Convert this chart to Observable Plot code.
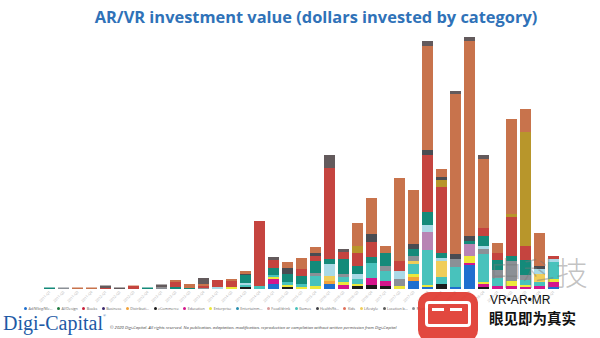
<!DOCTYPE html>
<html>
<head>
<meta charset="utf-8">
<script src="https://cdn.jsdelivr.net/npm/d3@7"></script>
<script src="https://cdn.jsdelivr.net/npm/@observablehq/plot@0.6"></script>
<style>
  html, body { margin: 0; padding: 0; background: #fff; }
  body { width: 600px; height: 338px; position: relative; overflow: hidden; font-family: "Open Sans", sans-serif; }
  #title { position: absolute; top: 5px; left: 32px; width: 568px; text-align: center; font-weight: 700; font-size: 16.4px; color: #2f72b8; white-space: nowrap; }
  #chart { position: absolute; top: 0; left: 0; }
  #legend { position: absolute; top: 306px; left: 24px; width: 412px; height: 7px; font-size: 3.7px; color: #666; white-space: nowrap; overflow: hidden; }
  #legend span.item { display: inline-flex; align-items: center; margin-right: 4.5px; }
  #legend span.dot { width: 3px; height: 3px; border-radius: 50%; margin-right: 1.4px; display: inline-block; }
  #brand { position: absolute; left: 3px; top: 312px; font-family: "Liberation Serif", serif; font-size: 20px; color: #1d5aa6; }
  #brand sup { font-size: 4px; vertical-align: 13px; }
  #copy { position: absolute; left: 110px; top: 325px; font-size: 4.2px; font-style: italic; color: #444; white-space: nowrap; }
  #wm { position: absolute; left: 0; top: 0; width: 600px; height: 338px; pointer-events: none; }
  #wm .logo { position: absolute; left: 418px; top: 292px; width: 60px; height: 50px; border-radius: 12px; background: #e0392f; opacity: 0.92; }
  #wm .logo .inner { position: absolute; left: 7px; top: 9px; width: 46px; height: 26px; border: 3px solid #fff; border-radius: 4px; box-sizing: border-box; }
  #wm .logo .bar1 { position: absolute; left: 14px; top: 16px; width: 12px; height: 3px; background: #fff; }
  #wm .logo .bar2 { position: absolute; left: 32px; top: 16px; width: 12px; height: 3px; background: #fff; }
  #wm .big { position: absolute; left: 490px; top: 255px; line-height: 1; font-family: "Noto Sans CJK SC", sans-serif; font-size: 32px; font-weight: 300; color: rgba(120,120,120,0.45); letter-spacing: 1px; }
  #wm .vr { position: absolute; left: 490px; top: 294px; line-height: 1; font-family: "Liberation Sans", sans-serif; font-size: 12px; color: #111; }
  #wm .cn { position: absolute; left: 489px; top: 310px; line-height: 1.1; font-family: "Noto Sans CJK SC", sans-serif; font-size: 14.5px; font-weight: 700; color: #111; }
</style>
</head>
<body>
<div id="chart"></div>
<div id="title">AR/VR investment value (dollars invested by category)</div>
<div id="legend"></div>
<div id="brand">Digi-Capital<sup>®</sup></div>
<div id="copy">© 2020 Digi-Capital. All rights reserved. No publication, adaptation, modification, reproduction or compilation without written permission from Digi-Capital</div>
<div id="wm">
  <div class="big">中科技</div>
  <div class="logo"><div class="inner"></div><div class="bar1"></div><div class="bar2"></div></div>
  <div class="vr">VR•AR•MR</div>
  <div class="cn">眼见即为真实</div>
</div>
<script>
// Quarters (x categories)
const quarters = [
  "2011-Q1","2011-Q2","2011-Q3","2011-Q4","2012-Q1","2012-Q2","2012-Q3","2012-Q4",
  "2013-Q1","2013-Q2","2013-Q3","2013-Q4","2014-Q1","2014-Q2","2014-Q3","2014-Q4",
  "2015-Q1","2015-Q2","2015-Q3","2015-Q4","2016-Q1","2016-Q2","2016-Q3","2016-Q4",
  "2017-Q1","2017-Q2","2017-Q3","2017-Q4","2018-Q1","2018-Q2","2018-Q3","2018-Q4",
  "2019-Q1","2019-Q2","2019-Q3","2019-Q4","2020-Q1"
];

// Categories (legend order = stack order, bottom to top) and their colours
const categories = [
  "Ad/Mktg/Media","AI/Design","Books","Business","Distribution","eCommerce","Education",
  "Enterprise","Entertainment","Food/drink","Games","Health/fitness","Kids","Lifestyle",
  "Location based","Medical","Music","Navigation","News","Photo/video","Smartglasses",
  "Social","Sports","Tech","Travel"
];
const colors = [
  "#1f6fcf","#1e7a3e","#c8203c","#3b2a6e","#f2a23a","#1c1c1c","#d4168c",
  "#ece83a","#2a8fb0","#d99a9a","#48c2bc","#3f3f46","#e0705a","#f0cd5a",
  "#5a5a5a","#8b9096","#f28a30","#b884b4","#a9d9e6","#148a7a","#c5443f",
  "#b8962b","#4a4c52","#c8734c","#635a5c"
];

// Dollars invested ($M) per quarter, by category
const adMedia      = [0,0,0,0,0,0,0,0,0,0, 0,0,0,0,0,0,60,0,0,0, 60,0,0,0,0,0,96,24,0,24, 288,0,0,0,0,0,24];
const distribution = [0,0,0,0,0,0,0,0,0,0, 0,0,0,0,0,0,0,0,0,0, 36,0,0,0,0,0,48,0,0,0, 0,0,0,0,0,0,0];
const eCommerce    = [0,0,0,0,0,0,0,0,0,0, 0,0,0,0,24,0,0,24,0,0, 0,0,36,48,36,0,0,0,60,0, 0,24,0,0,0,0,0];
const education    = [0,0,0,0,0,0,0,0,0,0, 0,0,0,0,0,0,60,0,0,0, 0,48,0,84,60,0,0,0,0,0, 24,36,36,36,24,36,60];
const enterprise   = [0,0,0,0,0,0,0,0,0,0, 0,0,0,24,0,0,24,24,24,36, 0,36,24,0,0,36,36,24,0,0, 84,24,0,60,24,0,36];
const games        = [0,0,0,0,0,0,0,0,0,0, 0,0,0,0,24,36,24,36,36,120, 0,60,60,180,120,0,120,420,84,240, 0,336,96,0,60,48,204];
const lifestyle    = [0,0,0,0,0,0,0,0,0,0, 0,0,0,0,0,0,0,0,0,0, 60,0,0,0,0,0,36,0,192,0, 0,0,0,0,0,96,0];
const medical      = [0,18,0,0,0,0,0,0,18,0, 0,12,0,0,0,0,0,0,0,36, 0,36,0,0,60,84,60,0,0,96, 0,60,96,240,60,0,0];
const navigation   = [0,0,0,0,0,0,0,0,0,0, 0,0,0,0,0,0,0,0,0,0, 0,0,0,0,0,0,0,216,0,0, 144,0,0,0,0,0,0];
const news         = [0,0,0,0,0,0,0,0,0,0, 0,0,24,0,24,0,0,0,0,0, 144,0,60,0,0,96,0,84,36,0, 0,36,0,0,0,60,36];
const photoVideo   = [18,0,0,0,0,0,0,18,0,24, 12,0,0,0,96,0,84,96,96,144, 60,180,96,72,156,0,84,156,60,0, 36,120,120,60,180,0,0];
const smartglasses = [0,0,0,0,12,0,36,0,0,60, 0,24,84,72,0,780,96,0,84,60, 1092,84,156,180,0,120,0,684,792,0, 0,96,84,468,168,0,36];
const social       = [0,0,0,0,0,0,0,0,0,0, 0,0,0,0,0,0,0,0,0,0, 0,0,84,0,0,0,0,0,84,0, 0,0,0,36,1368,0,0];
const sports       = [0,0,0,0,0,0,0,0,0,0, 0,0,0,0,12,0,0,72,0,36, 0,0,0,96,0,0,60,60,36,60, 60,0,0,0,0,36,0];
const tech         = [0,0,18,18,0,0,6,0,0,24, 48,24,0,24,36,0,0,72,132,72, 0,0,276,432,84,996,648,1248,96,1920, 2340,828,120,1140,276,396,0];
const travel       = [0,0,0,0,30,18,0,0,36,0, 0,72,0,0,0,0,36,0,0,0, 156,36,0,0,0,0,0,60,0,36, 48,48,0,0,0,0,0];

// Build long table from the named arrays
const seriesList = [
  ["Ad/Mktg/Media", adMedia], ["Distribution", distribution], ["eCommerce", eCommerce],
  ["Education", education], ["Enterprise", enterprise], ["Games", games],
  ["Lifestyle", lifestyle], ["Medical", medical], ["Navigation", navigation],
  ["News", news], ["Photo/video", photoVideo], ["Smartglasses", smartglasses],
  ["Social", social], ["Sports", sports], ["Tech", tech], ["Travel", travel]
];
const rows = [];
for (const [cat, vals] of seriesList) {
  vals.forEach((v, i) => { if (v > 0) rows.push({quarter: quarters[i], category: cat, value: v}); });
}

const chart = Plot.plot({
  width: 600,
  height: 305,
  marginTop: 37,
  marginBottom: 16,
  marginLeft: 30,
  marginRight: 27,
  style: {background: "transparent", fontFamily: "Open Sans, sans-serif"},
  x: {domain: quarters, padding: 0.25, label: null},
  y: {domain: [0, 3024], axis: null},
  color: {domain: categories, range: colors},
  marks: [
    Plot.barY(rows, {x: "quarter", y: "value", fill: "category", order: categories}),
    Plot.axisX({tickSize: 0, tickRotate: -45, tickPadding: 2, fontSize: 3.6, fill: "#b5b5b5", label: null})
  ]
});
document.getElementById("chart").appendChild(chart);

// Legend (HTML, dots + labels) — like the reference, only the items that fit are shown
const legendLabels = categories.map(c => c.length > 11 ? c.slice(0, 10) + "..." : c);
const legend = document.getElementById("legend");
const maxW = legend.clientWidth;
for (let i = 0; i < categories.length; i++) {
  const item = document.createElement("span");
  item.className = "item";
  const dot = document.createElement("span");
  dot.className = "dot";
  dot.style.background = colors[i];
  item.appendChild(dot);
  item.appendChild(document.createTextNode(legendLabels[i]));
  legend.appendChild(item);
  if (item.offsetLeft + item.offsetWidth > maxW) { legend.removeChild(item); break; }
}
</script>
</body>
</html>
